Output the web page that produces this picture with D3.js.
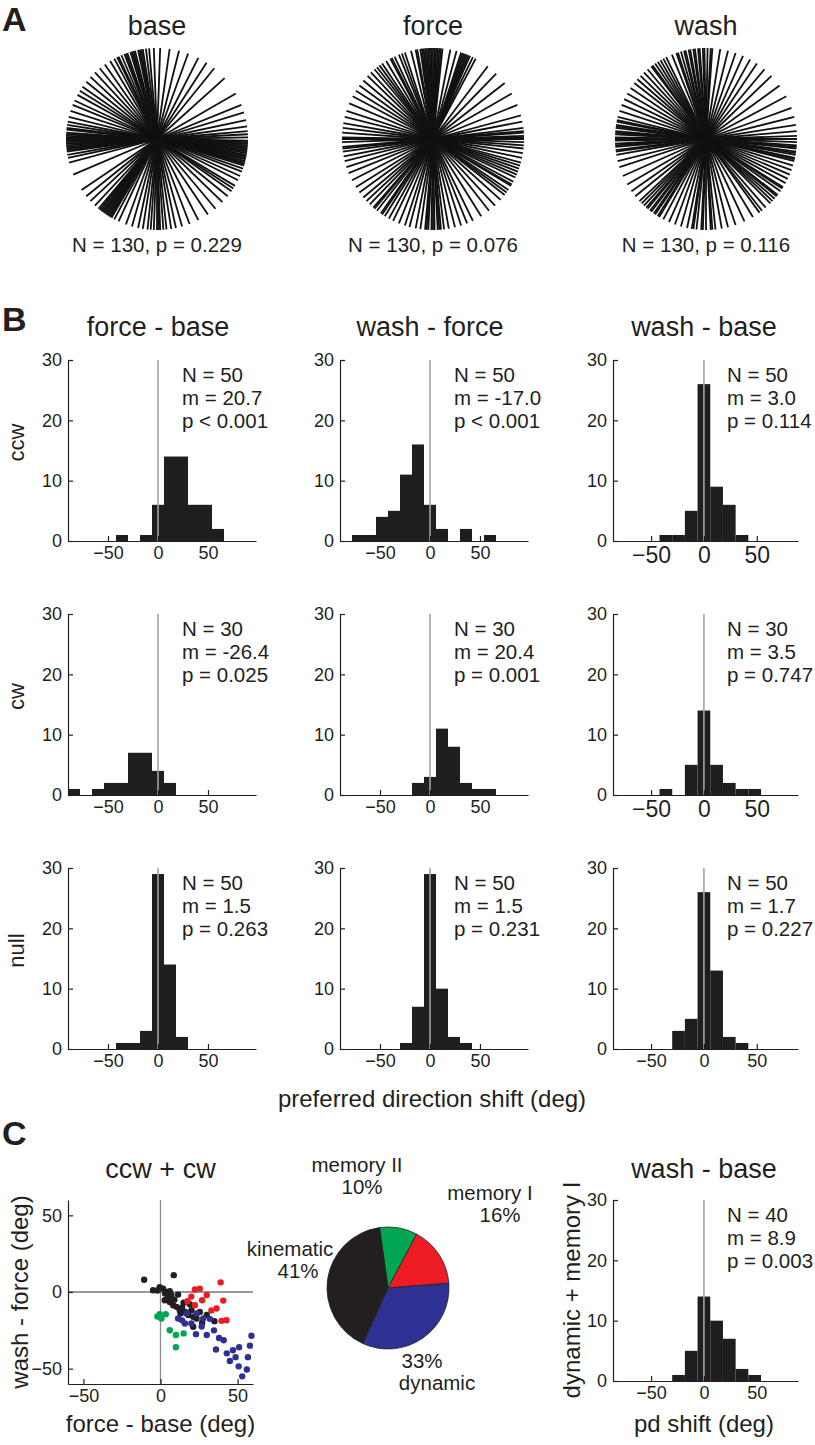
<!DOCTYPE html>
<html><head><meta charset="utf-8">
<script src="https://cdn.jsdelivr.net/npm/d3@7"></script>
<style>
body{margin:0;background:#fff}
svg{display:block}
text{font-family:"Liberation Sans",Arial,Helvetica,sans-serif;fill:#231f20}
</style>
</head><body>
<svg id="fig" width="815" height="1445"></svg>
<script>
// ---------------- DATA ----------------
// Panel A: preferred directions (deg) of 130 cells
const circleTitles = ["base", "force", "wash"];
const circleStats = ["N = 130, p = 0.229", "N = 130, p = 0.076", "N = 130, p = 0.116"];
const pdBase = [88,92,95,97,99,100,102,104,106,107,109,111,113,115,116,118,121,125,
  30,42,51,57,63,70,76,82,
  129,133,137,141,145,148,151,155,158,162,
  166,169,171,173,174,176,177,178,179,181,182,183,185,186,188,190,192,195,
  203,
  214,219,223,227,230,232,233,234,235,236,237,238,240,242,245,
  250,254,258,261,264,266,268,270,272,274,276,279,282,286,291,
  297,304,310,316,321,325,329,333,336,339,
  341,343,344,345,346,347,348,349,350,351,352,353,354,355,356,358,359,1,3,5,8,
  12,17,22,
  101,105,110,180,184,187,231,239,271,327,357];
const pdForce = [84,86,87,88,89,90,91,92,93,94,96,98,101,104,
  108,112,115,118,121,124,126,128,130,133,136,140,144,148,152,157,
  62,64,66,67,68,70,72,75,79,
  22,30,38,46,53,
  348,351,354,356,358,0,2,4,7,11,15,
  318,322,326,329,332,335,337,339,341,343,345,
  296,302,308,313,
  255,259,262,265,267,269,271,273,275,277,280,284,288,292,
  212,216,220,223,226,229,232,235,238,241,244,248,252,
  162,166,170,173,176,179,182,185,188,191,194,198,202,207,
  85,95,97,100,110,117,69,71,1,5,324,330,266,270,274,230,236,180,186];
const pdWash = [86,89,92,95,98,100,103,106,109,112,
  116,120,124,127,130,133,136,139,142,146,150,154,158,
  28,36,44,50,56,61,66,71,76,81,
  162,166,169,171,173,175,177,179,181,183,185,187,190,194,198,
  204,210,215,219,223,227,230,233,236,239,242,246,
  250,254,258,261,264,267,270,273,276,280,284,289,
  295,301,306,311,315,319,322,325,328,331,334,337,340,343,
  346,348,350,352,354,356,358,0,2,5,9,14,20,
  87,91,94,97,101,104,108,118,122,126,168,172,176,180,184,188,225,229,232,235,238,262,268,274,308,317,321,327,347,351,355];

// Panel B: histograms of PD shift (12-deg bins)
const colTitles = ["force - base", "wash - force", "wash - base"];
const rowLabels = ["ccw", "cw", "null"];
const binCenters = [-84,-72,-60,-48,-36,-24,-12,0,12,24,36,48,60,72,84];
const xTickValues = [-50, 0, 50];
const yTickValues = [0, 10, 20, 30];
const ccwFB = [0,0,0,0,1,0,1,6,14,14,6,6,2,0,0];
const ccwWF = [0,1,1,4,5,11,16,6,2,0,2,0,1,0,0];
const ccwWB = [0,0,0,0,1,1,5,26,9,6,1,0,0,0,0];
const cwFB  = [1,0,1,2,2,7,7,4,2,0,0,0,0,0,0];
const cwWF  = [0,0,0,0,0,0,2,3,11,8,2,1,1,0,0];
const cwWB  = [0,0,0,0,1,0,5,14,5,2,1,1,0,0,0];
const nullFB = [0,0,0,0,1,1,3,29,14,2,0,0,0,0,0];
const nullWF = [0,0,0,0,0,1,7,29,10,2,1,0,0,0,0];
const nullWB = [0,0,0,0,0,3,5,26,13,2,1,0,0,0,0];
const statsCcw = [["N = 50","m = 20.7","p < 0.001"],["N = 50","m = -17.0","p < 0.001"],["N = 50","m = 3.0","p = 0.114"]];
const statsCw  = [["N = 30","m = -26.4","p = 0.025"],["N = 30","m = 20.4","p = 0.001"],["N = 30","m = 3.5","p = 0.747"]];
const statsNull= [["N = 50","m = 1.5","p = 0.263"],["N = 50","m = 1.5","p = 0.231"],["N = 50","m = 1.7","p = 0.227"]];

// Panel C: scatter (force-base, wash-force) by class
const kinematicPts = [[-10.6,8],[8.6,11],[-4.8,1.1],[-0.5,3.2],[1.7,2.2],[3.9,0],[4.9,-2.1],[2.8,-5.4],[6,-6.5],[11.4,-1.7],
  [8.2,-8.6],[10.4,-9.7],[12.5,-11.9],[20.1,-11.9],[21.2,-16.2],[23.4,-17.3],[21.2,-22.7],[25.5,-13],[5.5,-3.5],[7,-2],
  [9,-5],[14,-10],[16,-13],[18,-15],[15,-7],[19,-8],[3,-1],[-2,1],[6,0.5],[13,-14],[27,-20],[30,-15],[35,-19]];
const memoryIPts = [[22.3,1.6],[25.5,2.2],[39,6.3],[17.5,-6],[22.3,-8.6],[27,-5.4],[40.7,-5.6],[36.3,-10.8],[39.6,-18.8],[42.8,-18.4],[30,-2],[20,-3],[33,-12]];
const memoryIIPts = [[-0.5,-14.5],[3.4,-14.5],[0.6,-17.3],[6,-24.9],[10,-28],[15,-27],[10,-36],[-2,-16]];
const dynamicPts = [[11.4,-17.3],[16.9,-14],[15.8,-20.5],[27.7,-17.3],[23.4,-14],[20,-20.5],[23,-27.5],[26.7,-22.5],[32,-17.5],[34.7,-25],
  [41,-31.5],[36,-37.5],[43,-40],[51,-36],[58,-35],[48.7,-42.5],[56.7,-42.5],[50.7,-48.5],[56,-50.5],[59,-28.5],[14,-18.5],[30,-28],[38,-30],[45,-45],[53,-55],[47,-38]];
const pieLabels = ["memory II", "memory I", "dynamic", "kinematic"];
const piePercents = [10, 16, 33, 41];
const cHistCounts = [0,0,0,0,0,1,5,14,10,7,2,1,0,0,0];
const cStats = ["N = 40", "m = 8.9", "p = 0.003"];

// ---------------- DRAWING ----------------
const svg = d3.select("#fig");
const INK = "#231f20";
const colors = {kin: "#231f20", dyn: "#2e3192", memI: "#ed1c24", memII: "#00a651"};

function label(t, x, y, size, opts = {}) {
  const el = svg.append("text").attr("x", x).attr("y", y).attr("font-size", size)
    .attr("text-anchor", opts.anchor || "middle").text(t);
  if (opts.bold) el.attr("font-weight", "bold");
  if (opts.rotate) el.attr("transform", `rotate(-90,${x},${y})`);
  return el;
}

// panel letters
label("A", 2, 31, 34, {anchor: "start", bold: true});
label("B", 2, 331, 34, {anchor: "start", bold: true});
label("C", 2, 1145, 34, {anchor: "start", bold: true});

// ---- Panel A ----
const aCx = [157, 433, 706], aCy = 139;
const rScale = d3.scaleLinear().domain([0, 1]).range([0, 91]);
[pdBase, pdForce, pdWash].forEach((set, i) => {
  const g = svg.append("g").attr("transform", `translate(${aCx[i]},${aCy})`);
  g.selectAll("line").data(set).join("line")
    .attr("x1", 0).attr("y1", 0)
    .attr("x2", d => rScale(1) * Math.cos(d * Math.PI / 180))
    .attr("y2", d => -rScale(1) * Math.sin(d * Math.PI / 180))
    .attr("stroke", "#111").attr("stroke-width", 1.8);
  label(circleTitles[i], aCx[i], 35, 27);
  label(circleStats[i], aCx[i], 252, 20.5);
});

// ---- Panel B ----
const colX0 = [68, 340, 613];
const colDomain = [[-90, 98], [-90, 98], [-86, 89]];
const colWidth = [188, 188, 185];
const rowTop = [360, 614, 868];
const axisH = 181;

function drawHist(x0, top, counts, domain, width, stats, tickFont) {
  const x = d3.scaleLinear().domain(domain).range([x0, x0 + width]);
  const y = d3.scaleLinear().domain([0, 30]).range([top + axisH, top]);
  const bins = binCenters.map((c, i) => ({c, n: counts[i]})).filter(d => d.n > 0);
  const g = svg.append("g");
  g.selectAll("rect").data(bins).join("rect")
    .attr("x", d => x(d.c - 6)).attr("width", d => x(d.c + 6) - x(d.c - 6))
    .attr("y", d => y(d.n)).attr("height", d => y(0) - y(d.n))
    .attr("fill", "#1f1d1e");
  g.append("line").attr("x1", x(0)).attr("x2", x(0)).attr("y1", y(0)).attr("y2", y(30))
    .attr("stroke", "#a3a3a3").attr("stroke-width", 1.6);
  const xa = g.append("g").attr("transform", `translate(0,${y(0)})`)
    .call(d3.axisBottom(x).tickValues(xTickValues).tickSize(-5).tickSizeOuter(0).tickPadding(tickFont > 19 ? 6 : 5));
  const ya = g.append("g").attr("transform", `translate(${x0},0)`)
    .call(d3.axisLeft(y).tickValues(yTickValues).tickSize(-5).tickSizeOuter(0).tickPadding(6));
  xa.attr("font-size", tickFont);
  ya.attr("font-size", 18);
  [xa, ya].forEach(a => {
    a.attr("font-family", '"Liberation Sans",Arial,sans-serif');
    a.selectAll("path,line").attr("stroke", INK).attr("stroke-width", 1.2);
    a.selectAll("text").attr("fill", INK);
  });
  stats.forEach((s, k) => label(s, x0 + 114, top + 22 + k * 23, 20.5, {anchor: "start"}));
  return x;
}

const allCounts = [[ccwFB, ccwWF, ccwWB], [cwFB, cwWF, cwWB], [nullFB, nullWF, nullWB]];
const allStats = [statsCcw, statsCw, statsNull];
for (let r = 0; r < 3; r++) {
  for (let c = 0; c < 3; c++) {
    const big = (c === 2 && r < 2) ? 23 : 18;
    const x = drawHist(colX0[c], rowTop[r], allCounts[r][c], colDomain[c], colWidth[c], allStats[r][c], big);
    if (r === 0) label(colTitles[c], x(0), 336, 27);
  }
  label(rowLabels[r], 24, rowTop[r] + axisH / 2 - 8, 22, {rotate: true});
}
label("preferred direction shift (deg)", 432, 1107, 24);

// ---- Panel C: scatter ----
const sx = d3.scaleLinear().domain([-60, 60]).range([68, 253]);
const sy = d3.scaleLinear().domain([-60, 60]).range([1384, 1200]);
const sg = svg.append("g");
sg.append("line").attr("x1", sx(0)).attr("x2", sx(0)).attr("y1", sy(-60)).attr("y2", sy(60))
  .attr("stroke", "#8c8c8c").attr("stroke-width", 1.3);
sg.append("line").attr("x1", sx(-60)).attr("x2", sx(60)).attr("y1", sy(0)).attr("y2", sy(0))
  .attr("stroke", "#333").attr("stroke-width", 1.1);
[[kinematicPts, colors.kin], [memoryIPts, colors.memI], [memoryIIPts, colors.memII], [dynamicPts, colors.dyn]].forEach(([pts, col]) => {
  sg.append("g").selectAll("circle").data(pts).join("circle")
    .attr("cx", d => sx(d[0])).attr("cy", d => sy(d[1])).attr("r", 3.2).attr("fill", col);
});
const sxa = sg.append("g").attr("transform", `translate(0,${sy(-60)})`)
  .call(d3.axisBottom(sx).tickValues(xTickValues).tickSize(-5).tickSizeOuter(0).tickPadding(5));
const sya = sg.append("g").attr("transform", `translate(${sx(-60)},0)`)
  .call(d3.axisLeft(sy).tickValues(xTickValues).tickSize(-5).tickSizeOuter(0).tickPadding(6));
[sxa, sya].forEach(a => {
  a.attr("font-size", 18).attr("font-family", '"Liberation Sans",Arial,sans-serif');
  a.selectAll("path,line").attr("stroke", INK).attr("stroke-width", 1.2);
  a.selectAll("text").attr("fill", INK);
});
label("ccw + cw", sx(0), 1178, 27);
label("force - base (deg)", sx(0), 1432, 24);
label("wash - force (deg)", 28, sy(0), 24, {rotate: true});

// ---- Panel C: pie ----
const pieCx = 388, pieCy = 1288, pieR = 61;
const pieColors = [colors.memII, colors.memI, colors.dyn, colors.kin];
const startA = -8 * Math.PI / 180;
const pie = d3.pie().sort(null).startAngle(startA).endAngle(startA + 2 * Math.PI);
const arc = d3.arc().innerRadius(0).outerRadius(pieR);
svg.append("g").attr("transform", `translate(${pieCx},${pieCy})`)
  .selectAll("path").data(pie(piePercents)).join("path")
  .attr("d", arc).attr("fill", (d, i) => pieColors[i]).attr("stroke", "#222").attr("stroke-width", 0.8);
label(pieLabels[0], 357, 1172, 20.5);
label(piePercents[0] + "%", 362, 1194, 20.5);
label(pieLabels[1], 490, 1200, 20.5);
label(piePercents[1] + "%", 500, 1222, 20.5);
label(pieLabels[3], 290, 1256, 20.5);
label(piePercents[3] + "%", 298, 1278, 20.5);
label(piePercents[2] + "%", 422, 1368, 20.5);
label(pieLabels[2], 437, 1390, 20.5);

// ---- Panel C: histogram ----
const cx = drawHist(613, 1200, cHistCounts, colDomain[2], colWidth[2], cStats, 18);
label("wash - base", cx(0), 1178, 27);
label("pd shift (deg)", cx(0), 1432, 24);
label("dynamic + memory I", 580, 1290, 24, {rotate: true});
</script>
</body></html>
